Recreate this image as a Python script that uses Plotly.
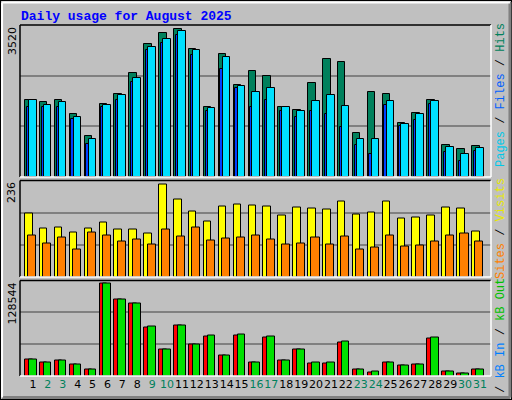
import plotly.graph_objects as go

days = list(range(1, 32))
hits = [1790,1740,1775,1450,940,1700,1930,2400,3090,3330,3420,2960,1620,2840,2120,2450,2350,1620,1550,2180,2740,2670,1010,1980,1930,1240,1490,1780,750,650,710]
files = [1775,1670,1740,1400,890,1670,1910,2300,3020,3190,3370,2940,1590,2790,2100,1960,2070,1610,1540,1770,1890,1650,890,870,1770,1220,1450,1750,700,540,680]
pages = [1610,1630,1610,1350,770,1610,1790,2190,2930,3100,3280,2820,1540,2510,2050,1630,1790,1540,1380,1520,1470,1150,730,540,1660,1170,1330,1700,590,380,610]
visits = [155,118,120,108,118,133,115,115,106,227,190,160,136,173,178,176,173,151,171,168,166,185,153,158,185,144,146,151,171,168,112]
sites = [101,82,97,67,109,101,87,92,80,116,99,121,89,94,97,101,92,80,82,97,80,99,67,72,101,74,76,87,101,106,87]
kb_f = [22100,17600,20700,14900,8600,124000,103000,97600,64900,35200,68200,42400,53000,28200,54200,17600,52100,21400,35200,16500,16500,44700,8600,4900,17600,13500,14900,50500,6000,3500,8600]
kb_out = [22100,17600,21400,14900,8600,124000,103000,97600,66100,35200,68200,42400,54200,28200,55400,18800,53300,21400,35200,17600,17600,45900,8600,6000,18800,13500,14900,51700,6000,3500,8600]
max_top, max_mid, max_bot = 3520, 236, 128544
weekend = {2,3,9,10,16,17,23,24,30,31}

fig = go.Figure()
ln = dict(color="black", width=1)

def bar(y, color, off, w, xa, ya):
    fig.add_trace(go.Bar(x=days, y=y, offset=off, width=w, marker=dict(color=color, line=ln),
                         xaxis=xa, yaxis=ya, showlegend=False))

bar(hits, "#00805C", -0.53, 0.5, "x", "y")
bar(pages, "#0040FF", -0.42, 0.5, "x", "y")
bar(files, "#00E0FF", -0.27, 0.51, "x", "y")
bar(visits, "#FFFF00", -0.53, 0.5, "x2", "y2")
bar(sites, "#FF8000", -0.31, 0.54, "x2", "y2")
bar(kb_f, "#FF0000", -0.53, 0.5, "x3", "y3")
bar(kb_out, "#00E000", -0.27, 0.51, "x3", "y3")

xr = [0.13, 31.74]
xd = [20/512, 491/512]
doms = {"": [1-177/400, 1-25/400], "2": [1-277/400, 1-180.5/400], "3": [1-376/400, 1-280.5/400]}
maxes = {"": max_top, "2": max_mid, "3": max_bot}
lay = {}
for k in ["", "2", "3"]:
    m = maxes[k]
    lay["xaxis" + k] = dict(domain=xd, range=xr, showgrid=False, zeroline=False,
                            showticklabels=False, ticks="", anchor="y" + k, fixedrange=True)
    lay["yaxis" + k] = dict(domain=doms[k], range=[0, m*1.0], tickvals=[m/3, 2*m/3],
                            showticklabels=False, gridcolor="#808080", gridwidth=1.5,
                            zeroline=False, anchor="x" + k, ticks="")
lay["xaxis3"].update(showticklabels=True, tickvals=days, tickangle=0,
                     ticktext=[f'<span style="color:{"#00805C" if d in weekend else "black"}">{d}</span>' for d in days],
                     tickfont=dict(family="DejaVu Sans", size=11, color="black"), ticklen=0)
fig.update_layout(**lay)

fig.update_layout(width=512, height=400, margin=dict(l=0, r=0, t=0, b=0),
                  paper_bgcolor="#C0C0C0", plot_bgcolor="#C0C0C0", barmode="overlay", bargap=0)

shapes = [
    dict(type="rect", xref="paper", yref="paper", x0=0, x1=1, y0=0, y1=1, line=dict(color="black", width=2)),
    dict(type="line", xref="paper", yref="paper", x0=0.004, x1=0.996, y0=0.006, y1=0.006, line=dict(color="#808080", width=3)),
    dict(type="line", xref="paper", yref="paper", x0=0.996, x1=0.996, y0=0.006, y1=0.995, line=dict(color="#808080", width=3)),
    dict(type="line", xref="paper", yref="paper", x0=0.004, x1=0.996, y0=0.994, y1=0.994, line=dict(color="white", width=2)),
    dict(type="line", xref="paper", yref="paper", x0=0.004, x1=0.004, y0=0.006, y1=0.994, line=dict(color="white", width=2)),
]
for k in ["", "2", "3"]:
    y0, y1 = doms[k]
    shapes += [
        dict(type="line", xref="paper", yref="paper", x0=xd[0], x1=xd[1], y0=y1, y1=y1, line=dict(color="black", width=1.5)),
        dict(type="line", xref="paper", yref="paper", x0=xd[0], x1=xd[0], y0=y0, y1=y1, line=dict(color="black", width=1.5)),
        dict(type="line", xref="paper", yref="paper", x0=xd[0], x1=xd[1], y0=y0, y1=y0, line=dict(color="white", width=1.5)),
        dict(type="line", xref="paper", yref="paper", x0=xd[1], x1=xd[1], y0=y0, y1=y1, line=dict(color="white", width=1.5)),
    ]
fig.update_layout(shapes=shapes)

ann = [dict(text="<b>Daily usage for August 2025</b>", x=19/512, y=1-7/400, xref="paper", yref="paper",
            xanchor="left", yanchor="top", showarrow=False, font=dict(family="Liberation Mono", size=13, color="#0000FF"))]
for k, lab in [("", str(max_top)), ("2", str(max_mid)), ("3", str(max_bot))]:
    ann.append(dict(text=lab, x=12/512, y=doms[k][1], xref="paper", yref="paper", xanchor="center", yanchor="top",
                    textangle=-90, showarrow=False, font=dict(family="DejaVu Sans", size=11, color="black")))
rl = [("", '<span style="color:#00C8E8">Pages</span> / <span style="color:#0060FF">Files</span> / <span style="color:#00805C">Hits</span>'),
      ("2", '<span style="color:#FF8000">Sites</span> / <span style="color:#E8E800">Visits</span>'),
      ("3", '<span style="color:#FF0000">kB F</span> / <span style="color:#0080FF">kB In</span> / <span style="color:#00C000">kB Out</span>')]
for k, t in rl:
    ann.append(dict(text=t, x=501/512, y=doms[k][1]+0.01, xref="paper", yref="paper", xanchor="center", yanchor="top",
                    textangle=-90, showarrow=False, font=dict(family="Liberation Mono", size=12, color="black")))
fig.update_layout(annotations=ann)

fig.write_html("out.html", config={"displayModeBar": False},
               post_script="document.body.style.margin='0';document.body.style.overflow='hidden';")
